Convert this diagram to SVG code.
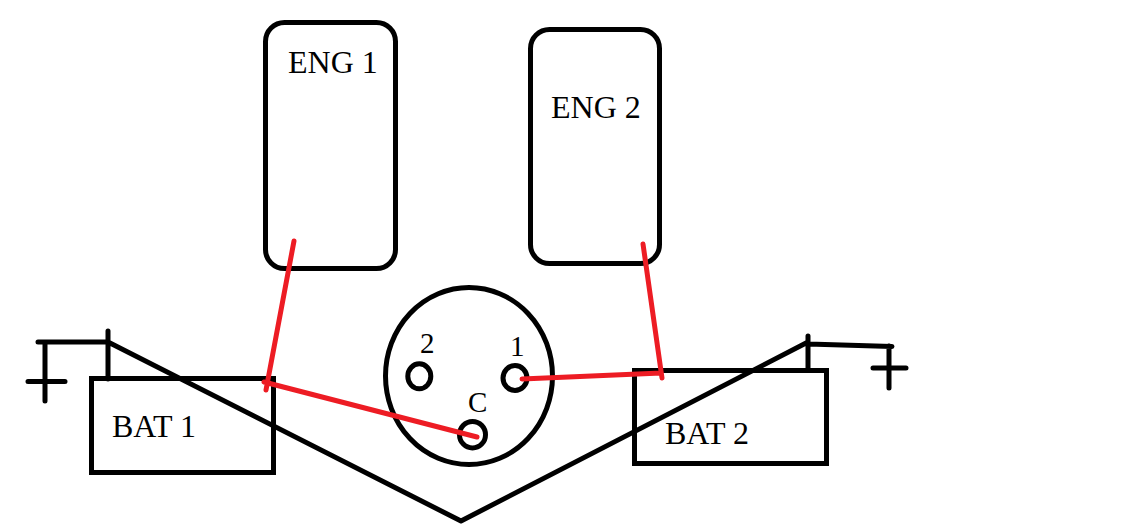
<svg xmlns="http://www.w3.org/2000/svg" width="1125" height="527" viewBox="0 0 1125 527">
<style>
.k{fill:none;stroke:#000;stroke-width:5;stroke-linecap:round;stroke-linejoin:round}
.b{fill:none;stroke:#000;stroke-width:5}
.r{fill:none;stroke:#ed1c24;stroke-width:5;stroke-linecap:round}
text{font-family:"Liberation Serif",serif;fill:#000}
.l{font-size:32px}
.p{font-size:29px}
</style>
<rect width="1125" height="527" fill="#fff"/>
<g id="eng1"><rect class="b" x="265.500" y="22.500" width="130" height="246" rx="19"/><text class="l" x="288" y="73">ENG 1</text></g>
<g id="eng2"><rect class="b" x="530.500" y="29.500" width="129" height="234" rx="19"/><text class="l" x="551" y="118">ENG 2</text></g>
<g id="bat1"><rect class="b" x="91.500" y="378.500" width="182" height="94"/><text class="l" x="112" y="437">BAT 1</text></g>
<g id="bat2"><rect class="b" x="634.500" y="370.500" width="192" height="93"/><text class="l" x="665" y="444">BAT 2</text></g>
<g id="switch">
<ellipse class="b" cx="469" cy="376" rx="83.500" ry="88.500"/>
<ellipse class="b" cx="419.300" cy="376.300" rx="11.500" ry="12.500"/>
<ellipse class="b" cx="515" cy="378" rx="12" ry="12.500"/>
<ellipse class="b" cx="472.500" cy="434.700" rx="13" ry="13.300"/>
<text class="p" x="420" y="353">2</text>
<text class="p" x="510" y="356">1</text>
<text class="p" x="468" y="412">C</text>
</g>
<g id="connectors">
<path class="k" d="M108 379V331M108 342L461 521L808 342M808 336V370M808 344L892 346.500M889 346V388M873 368H906M108 342H38M45 342V401M28 381.500H65"/>
<path class="r" d="M294 241L266 390M264 382L477 437M522 379L661 373M643 244L662 378"/>
</g>
</svg>
